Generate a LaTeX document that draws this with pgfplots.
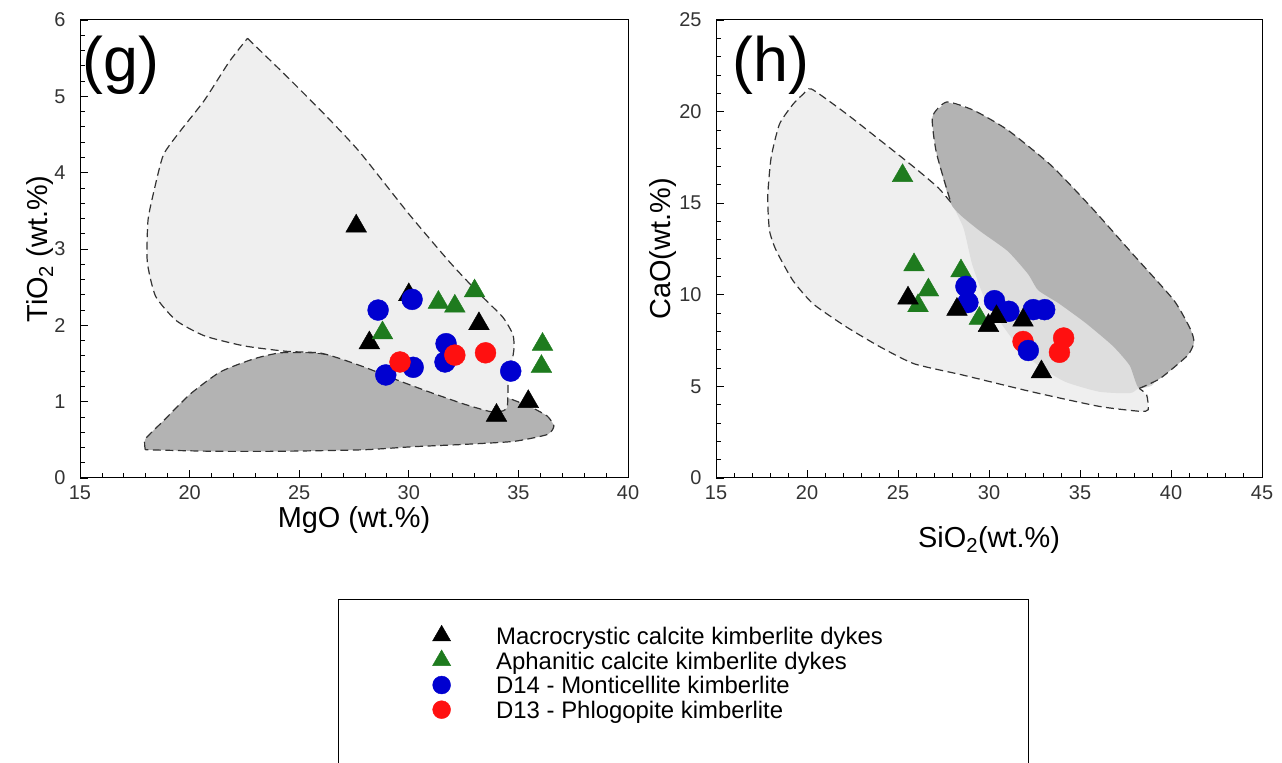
\documentclass[border=0pt]{standalone}
\usepackage{pgfplots}
\pgfplotsset{compat=1.18}
\usepackage{fontspec}
\setmainfont{Liberation Sans}
\definecolor{lgrey}{HTML}{EFEFEF}
\definecolor{mgrey}{HTML}{DEDEDE}
\definecolor{dgrey}{HTML}{B3B3B3}
\definecolor{mgreen}{HTML}{1E7B1E}
\definecolor{mblue}{HTML}{0000D0}
\definecolor{mred}{HTML}{FF1010}
\pgfplotsset{
  myaxis/.style={
    scale only axis,
    axis line style={line width=1bp, black},
    tick style={line width=0.8bp, black},
    major tick length=8bp, minor tick length=5bp,
    tick align=inside, xtick pos=bottom, ytick pos=left,
    ticklabel style={font=\fontsize{20}{24}\selectfont, text=black!80},
    xticklabel style={yshift=-4bp},
    yticklabel style={xshift=-11bp},
    /pgf/number format/assume math mode=true,
    label style={font=\fontsize{29}{33}\selectfont},
    clip=false,
  },
  outline/.style={draw=black!80, line width=1.2bp, dash pattern=on 8bp off 4.5bp, smooth, tension=0.35, forget plot, no markers},
  area/.style={draw=none, smooth, tension=0.35, forget plot, no markers},
  blk/.style={only marks, mark=triangle*, mark size=12, black, mark options={draw=black, fill=black}, legend image post style={mark size=10.5}},
  grn/.style={only marks, mark=triangle*, mark size=12, mgreen, mark options={draw=mgreen, fill=mgreen}, legend image post style={mark size=10.5}},
  blu/.style={only marks, mark=*, mark size=10.5, mblue, mark options={draw=mblue, fill=mblue}, legend image post style={mark size=9}},
  rd/.style={only marks, mark=*, mark size=10.5, mred, mark options={draw=mred, fill=mred}, legend image post style={mark size=9}},
}
\begin{document}
\begin{tikzpicture}
\path[use as bounding box] (0,0) rectangle (1282bp,763bp);
\clip (0,0) rectangle (1282bp,763bp);
% ---------------- (g)
\begin{axis}[myaxis, at={(80bp,285bp)}, anchor=south west, width=548bp, height=458bp,
  xmin=15, xmax=40, ymin=0, ymax=6,
  xtick={15,20,...,40}, minor x tick num=4,
  ytick={0,1,...,6}, minor y tick num=4,
  xlabel={MgO (wt.\%)}, ylabel={TiO\textsubscript{2} (wt.\%)},
  xlabel style={at={(axis description cs:0.5,-0.092)}, anchor=center},
  ylabel style={at={(axis description cs:-0.073,0.5)}, anchor=center},
  legend style={at={(axis description cs:0.643,-0.317)}, anchor=north west, draw=none, fill=none,
    font=\fontsize{24}{27.5}\selectfont, row sep=0bp, inner sep=0pt, cells={anchor=west},
    /tikz/every odd column/.append style={column sep=43.5bp}},
]
\addplot[area, fill=dgrey] coordinates {(17.98,0.37) (17.98,0.51) (18.81,0.75) (20.03,1.10) (21.4,1.39) (22.92,1.56) (24.14,1.64) (25.66,1.64) (26.58,1.60) (27.95,1.50) (29.47,1.36) (31.0,1.22) (32.5,1.12) (33.73,1.07) (34.49,1.05) (35.56,0.93) (36.32,0.81) (36.62,0.68) (36.32,0.57) (34.8,0.48) (32.5,0.44) (30.2,0.41) (27.95,0.37) (24.14,0.35) (21.1,0.35) (17.98,0.37)} -- cycle;
\addplot[outline] coordinates {(17.98,0.37) (17.98,0.51) (18.81,0.75) (20.03,1.10) (21.4,1.39) (22.92,1.56) (24.14,1.64) (25.66,1.64) (26.58,1.60) (27.95,1.50) (29.47,1.36) (31.0,1.22) (32.5,1.12) (33.73,1.07) (34.49,1.05) (35.56,0.93) (36.32,0.81) (36.62,0.68) (36.32,0.57) (34.8,0.48) (32.5,0.44) (30.2,0.41) (27.95,0.37) (24.14,0.35) (21.1,0.35) (17.98,0.37)};
\addplot[area, fill=lgrey] coordinates {(22.64,5.76) (24.4,5.27) (26.27,4.73) (27.76,4.27) (30.0,3.46) (31.86,2.83) (33.16,2.43) (34.28,2.11) (34.75,1.88) (34.8,1.70) (34.7,1.52) (34.55,1.40) (34.5,0.95) (34.3,0.88) (33.72,0.87) (32.5,0.97) (31.0,1.12) (29.5,1.28) (28.0,1.45) (26.8,1.57) (25.9,1.64) (24.4,1.66) (22.5,1.73) (20.7,1.86) (19.4,2.06) (18.45,2.38) (18.07,2.83) (18.1,3.37) (18.35,3.73) (18.8,4.23) (19.56,4.54) (20.68,4.95) (21.8,5.45) (22.64,5.76)} -- cycle;
\addplot[outline] coordinates {(22.64,5.76) (24.4,5.27) (26.27,4.73) (27.76,4.27) (30.0,3.46) (31.86,2.83) (33.16,2.43) (34.28,2.11) (34.75,1.88) (34.8,1.70) (34.7,1.52) (34.55,1.40) (34.5,0.95) (34.3,0.88) (33.72,0.87) (32.5,0.97) (31.0,1.12) (29.5,1.28) (28.0,1.45) (26.8,1.57) (25.9,1.64) (24.4,1.66) (22.5,1.73) (20.7,1.86) (19.4,2.06) (18.45,2.38) (18.07,2.83) (18.1,3.37) (18.35,3.73) (18.8,4.23) (19.56,4.54) (20.68,4.95) (21.8,5.45) (22.64,5.76)};
\addplot[blk] coordinates {(27.6,3.3) (28.2,1.77) (30.0,2.4) (33.2,2.02) (34.0,0.82) (35.45,1.0)};
\addlegendentry{\strut Macrocrystic calcite kimberlite dykes}
\addplot[grn] coordinates {(28.8,1.9) (31.35,2.3) (32.1,2.25) (33.0,2.45) (36.1,1.75) (36.05,1.46)};
\addlegendentry{\strut Aphanitic calcite kimberlite dykes}
\addplot[blu] coordinates {(28.6,2.2) (30.15,2.34) (28.95,1.35) (30.2,1.45) (31.7,1.76) (31.65,1.52) (34.65,1.40)};
\addlegendentry{\strut D14 - Monticellite kimberlite}
\addplot[rd] coordinates {(29.6,1.52) (32.1,1.61) (33.5,1.64)};
\addlegendentry{\strut D13 - Phlogopite kimberlite}
\node[anchor=north west, inner sep=0pt, font=\fontsize{63}{66}\selectfont] at (axis description cs:0.005,0.965) {(g)};
\end{axis}
% ---------------- (h)
\begin{axis}[myaxis, at={(716bp,285bp)}, anchor=south west, width=546bp, height=458bp,
  xmin=15, xmax=45, ymin=0, ymax=25,
  xtick={15,20,...,45}, minor x tick num=4,
  ytick={0,5,...,25}, minor y tick num=4,
  xlabel={SiO\textsubscript{2}(wt.\%)}, ylabel={CaO(wt.\%)},
  xlabel style={at={(axis description cs:0.5,-0.135)}, anchor=center},
  ylabel style={at={(axis description cs:-0.097,0.5)}, anchor=center},
]
\addplot[area, fill=lgrey] coordinates {(20.25,21.23) (22.19,19.86) (24.05,18.41) (25.9,16.95) (27.19,15.86) (27.9,15.05) (38.25,4.89) (38.66,4.54) (38.75,3.73) (38.29,3.64) (36.05,3.91) (32.33,4.71) (28.6,5.61) (25.9,6.23) (24.05,7.14) (22.19,8.23) (20.34,9.5) (19.23,10.77) (18.31,12.41) (17.94,13.5) (17.84,15.32) (18.03,17.5) (18.49,19.32) (19.23,20.4) (19.79,20.95) (20.25,21.23)} -- cycle;
\addplot[area, fill=mgrey] coordinates {(27.95,14.98) (28.6,13.64) (29.07,11.68) (29.72,9.89) (30.65,8.46) (31.58,7.21) (32.7,6.14) (34.19,5.25) (36.05,4.71) (37.73,4.63) (38.19,4.89) (39.0,5.6) (34.19,13.29) (28.6,15.43) (27.95,14.98)} -- cycle;
\addplot[area, fill=dgrey] coordinates {(27.67,20.52) (29.16,20.07) (31.02,19.0) (33.44,17.04) (35.68,14.71) (37.91,12.21) (40.15,9.71) (41.08,8.1) (41.26,7.39) (40.9,6.68) (39.4,5.43) (38.25,4.89) (37.73,6.14) (36.8,7.21) (35.31,8.46) (33.82,9.54) (32.7,10.25) (32.14,11.14) (31.02,12.39) (29.53,13.46) (28.42,14.36) (27.86,15.07) (27.11,17.75) (26.89,19.71) (27.67,20.52)} -- cycle;
\addplot[outline] coordinates {(38.25,4.89) (39.4,5.43) (40.9,6.68) (41.26,7.39) (41.08,8.1) (40.15,9.71) (37.91,12.21) (35.68,14.71) (33.44,17.04) (31.02,19.0) (29.16,20.07) (27.67,20.52) (26.89,19.71) (27.11,17.75) (27.9,15.05)};
\addplot[outline] coordinates {(27.9,15.05) (27.19,15.86) (25.9,16.95) (24.05,18.41) (22.19,19.86) (20.25,21.23) (19.79,20.95) (19.23,20.4) (18.49,19.32) (18.03,17.5) (17.84,15.32) (17.94,13.5) (18.31,12.41) (19.23,10.77) (20.34,9.5) (22.19,8.23) (24.05,7.14) (25.9,6.23) (28.6,5.61) (32.33,4.71) (36.05,3.91) (38.29,3.64) (38.75,3.73) (38.66,4.54) (38.25,4.89)};
\addplot[grn] coordinates {(25.25,16.5) (25.88,11.63) (26.67,10.26) (26.1,9.4) (28.46,11.3) (29.47,8.71)};
\addplot[rd] coordinates {(31.87,7.45) (34.1,7.64) (33.87,6.86)};
\addplot[blu] coordinates {(28.73,10.46) (28.84,9.58) (30.3,9.68) (31.09,9.1) (32.43,9.19) (33.06,9.19) (32.16,6.96)};
\addplot[blk] coordinates {(25.55,9.82) (28.24,9.2) (29.97,8.32) (30.41,8.8) (31.87,8.61) (32.88,5.79)};
\node[anchor=north west, inner sep=0pt, font=\fontsize{63}{66}\selectfont] at (axis description cs:0.03,0.965) {(h)};
\end{axis}
\draw[line width=1bp] (338bp,-10bp) rectangle (1028bp,163bp);
\end{tikzpicture}
\end{document}
